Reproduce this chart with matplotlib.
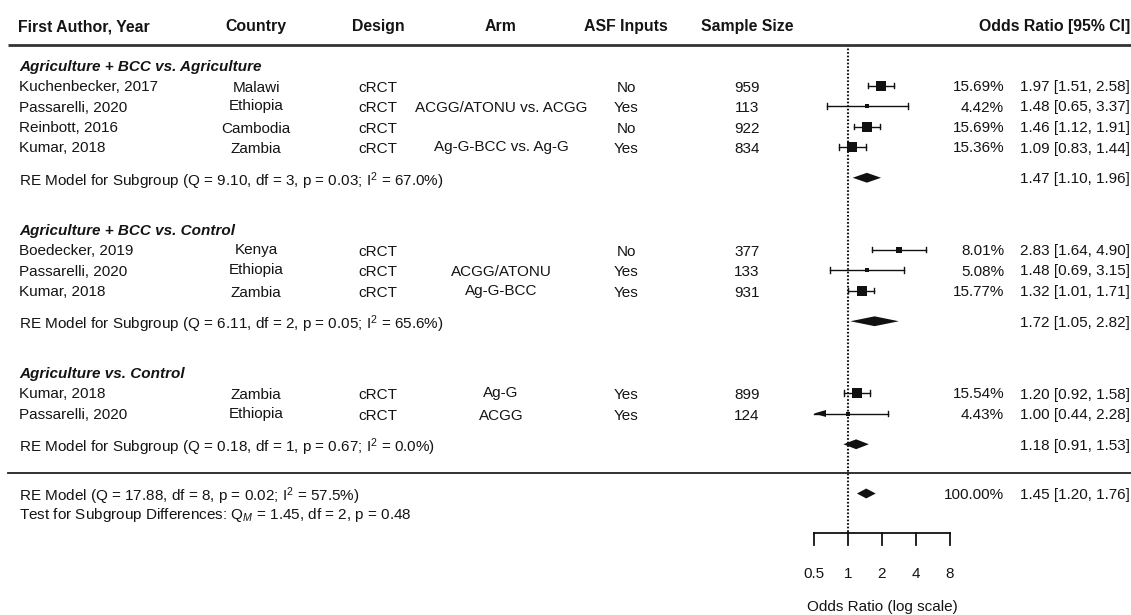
import numpy as np
import matplotlib
matplotlib.use('Agg')
import matplotlib.pyplot as plt
from matplotlib.patches import Polygon

plt.rcParams['font.family'] = ['Liberation Sans', 'DejaVu Sans']
plt.rcParams['mathtext.fontset'] = 'custom'
plt.rcParams['mathtext.rm'] = 'Liberation Sans'
plt.rcParams['mathtext.it'] = 'Liberation Sans:italic'
plt.rcParams['mathtext.bf'] = 'Liberation Sans:bold'

# ---------------- data ----------------
headers = ["First Author, Year", "Country", "Design", "Arm", "ASF Inputs", "Sample Size", "Odds Ratio [95% CI]"]
group_titles = ["Agriculture + BCC vs. Agriculture", "Agriculture + BCC vs. Control", "Agriculture vs. Control"]

study_group = [0, 0, 0, 0, 1, 1, 1, 2, 2]
authors = ["Kuchenbecker, 2017", "Passarelli, 2020", "Reinbott, 2016", "Kumar, 2018",
           "Boedecker, 2019", "Passarelli, 2020", "Kumar, 2018",
           "Kumar, 2018", "Passarelli, 2020"]
countries = ["Malawi", "Ethiopia", "Cambodia", "Zambia",
             "Kenya", "Ethiopia", "Zambia",
             "Zambia", "Ethiopia"]
designs = ["cRCT"] * 9
arms = ["", "ACGG/ATONU vs. ACGG", "", "Ag-G-BCC vs. Ag-G",
        "", "ACGG/ATONU", "Ag-G-BCC",
        "Ag-G", "ACGG"]
asf_inputs = ["No", "Yes", "No", "Yes",
              "No", "Yes", "Yes",
              "Yes", "Yes"]
sample_sizes = [959, 113, 922, 834, 377, 133, 931, 899, 124]
weights = [15.69, 4.42, 15.69, 15.36, 8.01, 5.08, 15.77, 15.54, 4.43]
or_est = [1.97, 1.48, 1.46, 1.09, 2.83, 1.48, 1.32, 1.20, 1.00]
or_lo = [1.51, 0.65, 1.12, 0.83, 1.64, 0.69, 1.01, 0.92, 0.44]
or_hi = [2.58, 3.37, 1.91, 1.44, 4.90, 3.15, 1.71, 1.58, 2.28]

sub_est = [1.47, 1.72, 1.18]
sub_lo = [1.10, 1.05, 0.91]
sub_hi = [1.96, 2.82, 1.53]
sub_Q = ["9.10", "6.11", "0.18"]
sub_df = [3, 2, 1]
sub_p = ["0.03", "0.05", "0.67"]
sub_I2 = ["67.0", "65.6", "0.0"]

overall_est, overall_lo, overall_hi = 1.45, 1.20, 1.76
overall_weight = "100.00%"
overall_Q, overall_df, overall_p, overall_I2 = "17.88", 8, "0.02", "57.5"
test_QM, test_df, test_p = "1.45", 2, "0.48"

axis_ticks = [0.5, 1, 2, 4, 8]
axis_tick_labels = ["0.5", "1", "2", "4", "8"]
xlabel = "Odds Ratio (log scale)"

# ---------------- layout ----------------
W, H = 1131, 615
ROW0, ROWH = 65.0, 20.5          # pixel y of first group title, row height
X_ONE, PX_PER_DOUBLING = 848.0, 34.0
TXT = '#141414'
FS = 11.0
FSH = 11.4


def krow(py):
    return (py - ROW0) / ROWH


fig = plt.figure(figsize=(W / 100, H / 100), dpi=100)
fig.patch.set_facecolor('white')

ax = fig.add_axes([0, 0, 1, 1])
ax.set_xscale('log', base=2)
ax.set_xlim(2 ** (-X_ONE / PX_PER_DOUBLING), 2 ** ((W - X_ONE) / PX_PER_DOUBLING))
ax.set_ylim(krow(H), krow(0))
ax.axis('off')

axt = fig.add_axes([0, 0, 1, 1], facecolor='none')
axt.set_xlim(0, W)
axt.set_ylim(krow(H), krow(0))
axt.axis('off')

X_AUTH, X_COUNTRY, X_DESIGN, X_ARM, X_ASF, X_N = 19, 256, 378, 501, 626, 747
X_W, X_OR = 1004, 1130
DESC = set("gjpqy")


def ctext(x, y, s, **kw):
    # R-style bbox centering: strings with descenders sit slightly higher
    off = -0.06 if any(c in DESC for c in s) else 0.04
    axt.text(x, y + off, s, ha='center', va='center_baseline', fontsize=FS, color=TXT, **kw)


# headers
y_head = krow(25)
axt.text(18, y_head, headers[0], ha='left', va='center_baseline', fontsize=FSH, fontweight='bold', color=TXT)
for xh, hname in zip([X_COUNTRY, X_DESIGN, X_ARM, X_ASF, X_N], headers[1:6]):
    axt.text(xh, y_head, hname, ha='center', va='center_baseline', fontsize=FSH, fontweight='bold', color=TXT)
axt.text(X_OR, y_head, headers[6], ha='right', va='center_baseline', fontsize=FSH, fontweight='bold', color=TXT)
axt.plot([8, W], [krow(44.5), krow(44.5)], color='#333333', lw=2.0, solid_capstyle='butt')

# rows
wmin, wmax = min(weights), max(weights)
row = 0.0
for g in range(len(group_titles)):
    axt.text(X_AUTH, row, group_titles[g], ha='left', va='center_baseline', fontsize=FS,
             fontweight='bold', fontstyle='italic', color=TXT)
    idx = [i for i, sg in enumerate(study_group) if sg == g]
    for i in idx:
        row += 1
        axt.text(X_AUTH, row, authors[i], ha='left', va='center_baseline', fontsize=FS, color=TXT)
        ctext(X_COUNTRY, row, countries[i])
        ctext(X_DESIGN, row, designs[i])
        if arms[i]:
            ctext(X_ARM, row, arms[i])
        ctext(X_ASF, row, asf_inputs[i])
        ctext(X_N, row, str(sample_sizes[i]))
        axt.text(X_W, row, f"{weights[i]:.2f}%", ha='right', va='center_baseline', fontsize=FS, color=TXT)
        axt.text(X_OR, row, f"{or_est[i]:.2f} [{or_lo[i]:.2f}, {or_hi[i]:.2f}]", ha='right',
                 va='center_baseline', fontsize=FS, color=TXT)
        # CI
        lo = max(or_lo[i], axis_ticks[0])
        hi = min(or_hi[i], axis_ticks[-1])
        ax.plot([lo, hi], [row, row], color='#111111', lw=1.0)
        cap = 0.14
        if or_lo[i] >= axis_ticks[0]:
            ax.plot([lo, lo], [row - cap, row + cap], color='#111111', lw=1.0)
        else:
            tip = axis_ticks[0]
            base = tip * 2 ** (12 / PX_PER_DOUBLING)
            ax.add_patch(Polygon([(tip, row), (base, row - 0.17), (base, row + 0.17)],
                                 closed=True, color='#111111', lw=0))
        if or_hi[i] <= axis_ticks[-1]:
            ax.plot([hi, hi], [row - cap, row + cap], color='#111111', lw=1.0)
        side = 3.8 + (weights[i] - wmin) / (wmax - wmin) * 6.7
        ax.plot([or_est[i]], [row], marker='s', ms=side * 0.72, color='#111111', mew=0, ls='none')
    row += 1.5
    axt.text(X_AUTH, row,
             f"RE Model for Subgroup (Q = {sub_Q[g]}, df = {sub_df[g]}, p = {sub_p[g]}; I$^2$ = {sub_I2[g]}%)",
             ha='left', va='center_baseline', fontsize=FS, color=TXT)
    axt.text(X_OR, row, f"{sub_est[g]:.2f} [{sub_lo[g]:.2f}, {sub_hi[g]:.2f}]", ha='right',
             va='center_baseline', fontsize=FS, color=TXT)
    dh = 0.24
    ax.add_patch(Polygon([(sub_lo[g], row), (sub_est[g], row - dh), (sub_hi[g], row), (sub_est[g], row + dh)],
                         closed=True, color='#111111', lw=0))
    row += 2.5

# separator and overall
y_sep = krow(473)
axt.plot([8, W], [y_sep, y_sep], color='#222222', lw=1.3)
y_ov = krow(493.5)
axt.text(X_AUTH, y_ov, f"RE Model (Q = {overall_Q}, df = {overall_df}, p = {overall_p}; I$^2$ = {overall_I2}%)",
         ha='left', va='center_baseline', fontsize=FS, color=TXT)
axt.text(X_W, y_ov, overall_weight, ha='right', va='center_baseline', fontsize=FS, color=TXT)
axt.text(X_OR, y_ov, f"{overall_est:.2f} [{overall_lo:.2f}, {overall_hi:.2f}]", ha='right',
         va='center_baseline', fontsize=FS, color=TXT)
ax.add_patch(Polygon([(overall_lo, y_ov), (overall_est, y_ov - 0.24), (overall_hi, y_ov), (overall_est, y_ov + 0.24)],
                     closed=True, color='#111111', lw=0))
axt.text(X_AUTH, krow(512), f"Test for Subgroup Differences: Q$_M$ = {test_QM}, df = {test_df}, p = {test_p}",
         ha='left', va='center_baseline', fontsize=FS, color=TXT)

# reference line
ax.plot([1, 1], [krow(44.5), krow(533)], color='#111111', lw=1.5, ls=(0, (0.8, 0.9)))

# x axis
y_ax = krow(533)
ax.plot([axis_ticks[0], axis_ticks[-1]], [y_ax, y_ax], color='#111111', lw=1.3)
for t, tl in zip(axis_ticks, axis_tick_labels):
    ax.plot([t, t], [y_ax, krow(545)], color='#111111', lw=1.3)
    ax.text(t, krow(572), tl, ha='center', va='center_baseline', fontsize=FS, color=TXT)
mid = np.sqrt(axis_ticks[0] * axis_ticks[-1])
ax.text(mid, krow(606), xlabel, ha='center', va='center_baseline', fontsize=FS, color=TXT)

fig.savefig('out.png', dpi=100, facecolor='white')
